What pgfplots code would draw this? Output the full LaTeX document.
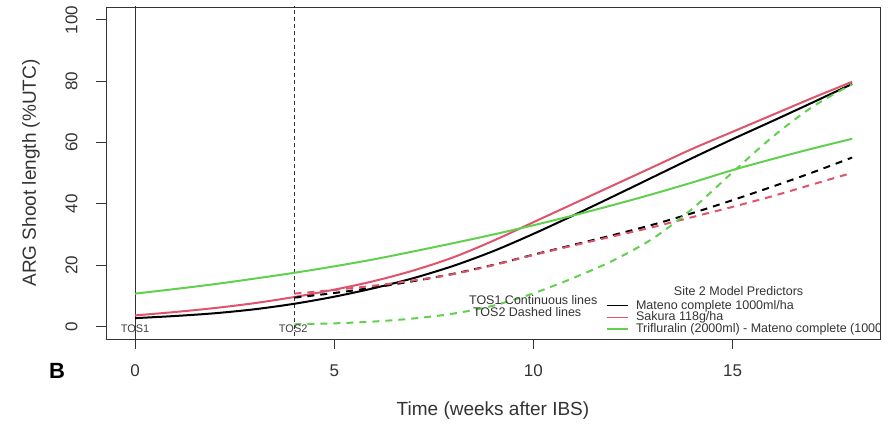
\documentclass[border=0pt]{standalone}
\usepackage{fontspec}
\setmainfont{Liberation Sans}
\usepackage{pgfplots}
\pgfplotsset{compat=1.18}
\definecolor{rred}{HTML}{DF536B}
\definecolor{rgreen}{HTML}{61D04F}
\definecolor{axgray}{HTML}{333333}

\begin{document}
\begin{tikzpicture}
\useasboundingbox (-106pt,-86pt) rectangle (786pt,339pt);
\begin{axis}[
  at={(0pt,0pt)}, anchor=south west,
  width=774pt, height=332pt, scale only axis,
  xmin=-0.73, xmax=18.7,
  ymin=-4.1, ymax=104.2,
  xtick={0,5,10,15},
  ytick={0,20,40,60,80,100},
  tick align=outside,
  major tick length=10pt,
  tick style={axgray, line width=0.9pt},
  axis line style={axgray, line width=0.9pt},
  xtick pos=bottom, ytick pos=left,
  /pgf/number format/assume math mode=true,
  tick label style={font=\fontsize{17}{20}\selectfont, text=black!80},
  xticklabel style={yshift=-12pt},
  yticklabel style={rotate=90, anchor=south, yshift=15pt},
  every axis x label/.style={at={(axis description cs:0.5,0)}, yshift=-72pt, anchor=center,
    font=\fontsize{19}{22}\selectfont, text=black!80},
  every axis y label/.style={at={(axis description cs:0,0.5)}, xshift=-75pt, rotate=90, anchor=center,
    font=\fontsize{19}{22}\selectfont, text=black!80},
  xlabel={Time (weeks after IBS)},
  ylabel={ARG Shoot length (\%UTC)},
]
% reference lines at TOS1 and TOS2
\draw[axgray, line width=0.9pt] (axis cs:0,-10) -- (axis cs:0,110);
\draw[axgray, line width=0.8pt, dash pattern=on 4pt off 3pt] (axis cs:4,-10) -- (axis cs:4,110);

% TOS1 continuous
\addplot[black, line width=2pt, smooth] coordinates {
  (0,2.7) (1,3.4) (2,4.3) (3,5.6) (4,7.4) (5,9.7) (6,12.5) (7,15.8) (8,19.8)
  (9,24.6) (10,30.2) (11,36.2) (12,42.4) (13,48.7) (14,55) (15,61.1) (16,67)
  (17,73) (18,79.1)
};
\addplot[rred, line width=2pt, smooth] coordinates {
  (0,3.6) (1,4.7) (2,6.0) (3,7.6) (4,9.6) (5,12.0) (6,14.8) (7,18.3) (8,22.6)
  (9,28) (10,34) (11,40) (12,46) (13,52) (14,58) (15,63.5) (16,69) (17,74.5)
  (18,79.8)
};
\addplot[rgreen, line width=2pt, smooth] coordinates {
  (0,10.7) (1,12.2) (2,13.8) (3,15.6) (4,17.5) (5,19.6) (6,21.9) (7,24.5)
  (8,27.2) (9,30) (10,33) (11,36.2) (12,39.6) (13,43.2) (14,47) (15,51)
  (16,54.6) (17,58) (18,61.2)
};
% TOS2 dashed
\addplot[black, line width=2pt, smooth, dash pattern=on 7pt off 6pt] coordinates {
  (4,9.4) (5,10.9) (6,12.7) (7,14.8) (8,17.2) (9,20.1) (10,23.4) (11,26.6)
  (12,29.8) (13,33.2) (14,37) (15,41.2) (16,45.6) (17,50.2) (18,55.1)
};
\addplot[rred, line width=2pt, smooth, dash pattern=on 7pt off 6pt] coordinates {
  (4,10.7) (5,11.9) (6,13.3) (7,15) (8,17.1) (9,20) (10,23.3) (11,26.4)
  (12,29.4) (13,32.4) (14,35.7) (15,39) (16,42.5) (17,46.3) (18,50.1)
};
\addplot[rgreen, line width=2pt, smooth, dash pattern=on 7pt off 6pt] coordinates {
  (4,0.7) (5,1.0) (6,1.6) (7,2.6) (8,4.2) (9,6.8) (10,10.8) (11,15.8)
  (12,21.5) (13,28.7) (14,38.5) (15,50.3) (16,61.8) (17,71.6) (18,79)
};

% TOS labels
\node[font=\fontsize{11}{13}\selectfont, text=black!75] at (axis cs:0,-0.8) {TOS1};
\node[font=\fontsize{11}{13}\selectfont, text=black!75] at (axis cs:3.97,-0.8) {TOS2};

% text legend
\node[anchor=west, font=\fontsize{12.5}{14}\selectfont, text=black!80, inner sep=0pt] at (axis cs:8.38,8.7) {TOS1 Continuous lines};
\node[anchor=west, font=\fontsize{12.5}{14}\selectfont, text=black!80, inner sep=0pt] at (axis cs:8.48,4.7) {TOS2 Dashed lines};

% model legend (cut at the box like the original)
\node[font=\fontsize{12.5}{14}\selectfont, text=black!80, inner sep=0pt] at (axis cs:15.15,11.7) {Site 2 Model Predictors};
\draw[black, line width=1.2pt] (axis cs:11.84,6.7) -- (axis cs:12.37,6.7);
\draw[rred, line width=1.2pt] (axis cs:11.84,2.9) -- (axis cs:12.37,2.9);
\draw[rgreen, line width=1.2pt] (axis cs:11.84,-0.85) -- (axis cs:12.37,-0.85);
\node[anchor=west, font=\fontsize{12.5}{14}\selectfont, text=black!80, inner sep=0pt] at (axis cs:12.57,6.7) {Mateno complete 1000ml/ha};
\node[anchor=west, font=\fontsize{12.5}{14}\selectfont, text=black!80, inner sep=0pt] at (axis cs:12.57,2.9) {Sakura 118g/ha};
\node[anchor=west, font=\fontsize{12.5}{14}\selectfont, text=black!80, inner sep=0pt] at (axis cs:12.57,-0.85) {Trifluralin (2000ml) - Mateno complete (1000ml/ha)};

\coordinate (Bpos) at (axis cs:-1.96,-14.4);
\end{axis}
\node[font=\fontsize{22}{24}\selectfont\bfseries] at (Bpos) {B};
\end{tikzpicture}
\end{document}
